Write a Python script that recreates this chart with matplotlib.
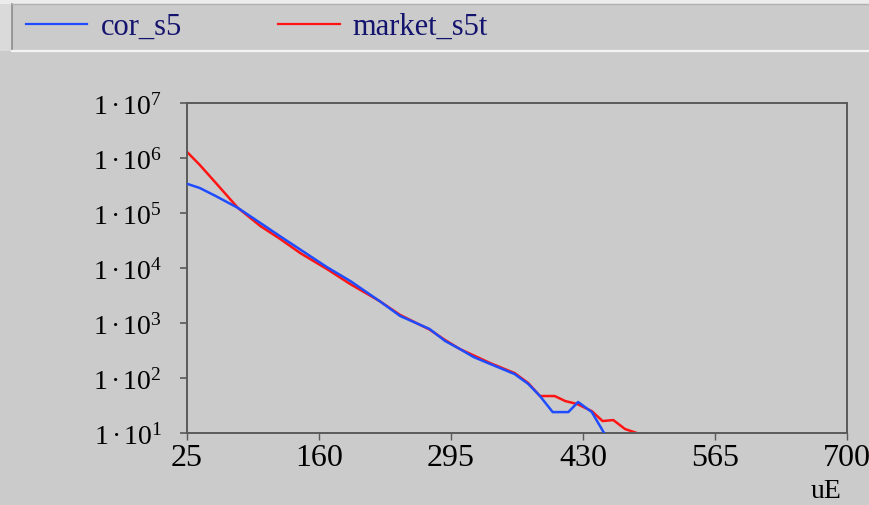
import matplotlib
matplotlib.use('Agg')
import matplotlib.pyplot as plt
from matplotlib.lines import Line2D
from matplotlib.patches import Rectangle

plt.rcParams['font.family'] = ['Liberation Serif', 'DejaVu Serif']
plt.rcParams['mathtext.fontset'] = 'custom'
plt.rcParams['mathtext.rm'] = 'Liberation Serif'
plt.rcParams['mathtext.it'] = 'Liberation Serif:italic'

# ---- data ----
cor_x = [25, 38, 54, 77, 120, 168, 192, 222, 243, 273, 289, 304, 318, 335,
         360, 374, 386, 399, 415, 425, 439, 451, 454]
cor_y = [3.4e5, 2.85e5, 2.05e5, 1.24e5, 3.8e4, 1.04e4, 5.8e3, 2.5e3, 1.34e3,
         780, 471, 337, 241, 180, 118, 78, 47, 24, 24, 36.6, 24, 10.4, 8.5]

market_x = [25, 38, 54, 77, 100, 120, 141, 168, 192, 222, 243, 273, 289, 304,
            335, 360, 374, 386, 401, 412, 424, 439, 450, 461, 473, 485, 493]
market_y = [1.29e6, 7.5e5, 3.6e5, 1.24e5, 5.8e4, 3.4e4, 1.86e4, 9.6e3, 5.1e3,
            2.5e3, 1.4e3, 760, 490, 337, 187, 123, 81, 47, 47, 38, 33.7, 25,
            16.5, 17.2, 11.8, 10, 9]

x_ticks = [25, 160, 295, 430, 565, 700]
y_exps = [1, 2, 3, 4, 5, 6, 7]
series_names = ['cor_s5', 'market_s5t']

W, H = 870, 506
BG = '#cbcbcb'
BLUE = '#1f4cff'
RED = '#ff1414'
AX = '#5a5a5a'

fig = plt.figure(figsize=(W / 100, H / 100), dpi=100, facecolor=BG)


def fx(px):
    return px / W


def fy(py):
    return 1 - py / H


ax = fig.add_axes([fx(187), fy(434), fx(847) - fx(187), fy(104) - fy(434)])
ax.set_facecolor(BG)
ax.plot(cor_x, cor_y, color=BLUE, lw=1.8, zorder=3)
ax.plot(market_x, market_y, color=RED, lw=1.8, zorder=2)
ax.set_yscale('log')
ax.set_xlim(25, 700)
ax.set_ylim(10, 1e7)
ax.set_xticks(x_ticks)
ax.set_xticklabels([str(t) for t in x_ticks], fontsize=23)
ax.set_yticks([10.0 ** e for e in y_exps])
ax.set_yticklabels([r'$\mathrm{1\,·\,10^{%d}}$' % e for e in y_exps], fontsize=20)
ax.yaxis.set_minor_locator(matplotlib.ticker.NullLocator())
ax.tick_params(axis='x', direction='out', length=5, width=1, color=AX, pad=2)
ax.tick_params(axis='y', direction='out', length=5, width=1.2, color=AX, pad=13)
for s in ax.spines.values():
    s.set_color(AX)
    s.set_linewidth(1.4)

# axis label
fig.text(fx(826), fy(492), 'uE', ha='center', va='center', fontsize=20)

# legend strip
fig.patches.append(Rectangle((0, fy(5)), 1, 1 - fy(5), transform=fig.transFigure,
                             facecolor='#ececec', edgecolor='none', zorder=0))
fig.patches.append(Rectangle((0, fy(52)), fx(12), fy(5) - fy(52), transform=fig.transFigure,
                             facecolor='#dadada', edgecolor='none', zorder=0))
fig.lines.append(Line2D([fx(12), fx(12)], [fy(5), fy(52)], transform=fig.transFigure,
                        color='#8c8c8c', lw=1.2))
fig.lines.append(Line2D([fx(12), 1], [fy(5), fy(5)], transform=fig.transFigure,
                        color='#b0b0b0', lw=1.0))
fig.lines.append(Line2D([fx(12), 1], [fy(52), fy(52)], transform=fig.transFigure,
                        color='#f4f4f4', lw=1.6))

fig.lines.append(Line2D([fx(26), fx(87)], [fy(25), fy(25)], transform=fig.transFigure,
                        color=BLUE, lw=1.6))
fig.text(fx(101), fy(35), series_names[0], ha='left', va='baseline',
         fontsize=22, color='#14146e')
fig.lines.append(Line2D([fx(278), fx(340)], [fy(25), fy(25)], transform=fig.transFigure,
                        color=RED, lw=1.6))
fig.text(fx(352), fy(35), series_names[1], ha='left', va='baseline',
         fontsize=22, color='#14146e')

fig.savefig('out.png', dpi=100, facecolor=BG)
